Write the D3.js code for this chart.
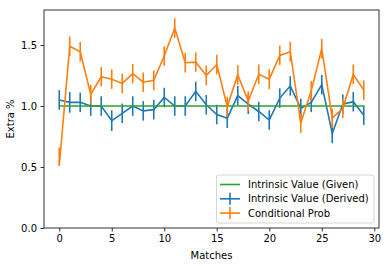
<!DOCTYPE html>
<html><head><meta charset="utf-8">
<script src="https://cdn.jsdelivr.net/npm/d3@7"></script>
<style>body{margin:0;background:#fff}svg{display:block;font-family:"DejaVu Sans",sans-serif}</style>
</head><body><svg id="c" width="389" height="266"></svg>
<script>
const matches = d3.range(30);
const givenValues = matches.map(() => 1.0);
const derivedValues = [1.05,1.03,1.03,1.0,1.0,0.88,0.94,1.0,0.96,0.97,1.07,1.0,1.0,1.12,1.01,0.93,0.90,1.085,1.015,0.955,0.885,1.065,1.165,0.98,1.03,1.175,0.775,1.015,1.035,0.925];
const derivedErr = [0.08,0.085,0.08,0.08,0.08,0.085,0.08,0.08,0.08,0.08,0.08,0.08,0.08,0.08,0.08,0.08,0.08,0.08,0.08,0.08,0.08,0.08,0.08,0.08,0.08,0.08,0.08,0.08,0.08,0.08];
const condValues = [0.51,1.49,1.445,1.095,1.24,1.22,1.185,1.265,1.195,1.21,1.41,1.64,1.355,1.36,1.25,1.34,0.995,1.255,1.04,1.26,1.22,1.415,1.445,0.86,1.125,1.47,0.90,0.98,1.26,1.13];
const condErrLow = [0.0,0.08,0.08,0.08,0.08,0.08,0.08,0.08,0.08,0.08,0.08,0.08,0.08,0.08,0.08,0.08,0.08,0.08,0.08,0.08,0.08,0.08,0.08,0.08,0.08,0.08,0.08,0.08,0.08,0.08];
const condErrHigh = [0.15,0.08,0.08,0.08,0.08,0.08,0.08,0.08,0.08,0.08,0.08,0.08,0.08,0.08,0.08,0.08,0.08,0.08,0.08,0.08,0.08,0.08,0.08,0.08,0.08,0.08,0.08,0.08,0.08,0.08];
const xTicks = [0,5,10,15,20,25,30];
const yTicks = [0.0,0.5,1.0,1.5];
const legendLabels = ["Intrinsic Value (Given)","Intrinsic Value (Derived)","Conditional Prob"];
const colors = {given:"#2ca02c", derived:"#1f77b4", cond:"#ff7f0e"};

const svg = d3.select("#c");
const L=44, R=379, T=10, B=228;
const x = d3.scaleLinear().domain([-1.45,30.45]).range([L,R]);
const y = d3.scaleLinear().domain([0,1.787]).range([B,T]);

const line = d3.line().x((d,i)=>x(matches[i])).y(d=>y(d));
const g = svg.append("g");

function series(vals, lo, hi, col){
  if(lo){
    g.append("g").selectAll("line").data(vals).join("line")
      .attr("x1",(d,i)=>x(matches[i])).attr("x2",(d,i)=>x(matches[i]))
      .attr("y1",(d,i)=>y(d-lo[i])).attr("y2",(d,i)=>y(d+hi[i]))
      .attr("stroke",col).attr("stroke-width",1.6);
  }
  g.append("path").datum(vals).attr("d",line).attr("fill","none")
    .attr("stroke",col).attr("stroke-width",1.6);
}
series(derivedValues,derivedErr,derivedErr,colors.derived);
series(givenValues,null,null,colors.given);
series(condValues,condErrLow,condErrHigh,colors.cond);

// axes
const xa = svg.append("g").attr("transform",`translate(0,${B})`)
  .call(d3.axisBottom(x).tickValues(xTicks).tickSize(3.5).tickPadding(3.5).tickFormat(d3.format("d")));
const ya = svg.append("g").attr("transform",`translate(${L},0)`)
  .call(d3.axisLeft(y).tickValues(yTicks).tickSize(3.5).tickPadding(3.5).tickFormat(d3.format(".1f")));
[xa,ya].forEach(a=>{a.select(".domain").remove();a.selectAll("text").attr("font-size",10).attr("fill","#000").attr("font-family","DejaVu Sans");a.selectAll("line").attr("stroke","#000").attr("stroke-width",0.8);});
svg.append("rect").attr("x",L).attr("y",T).attr("width",R-L).attr("height",B-T)
  .attr("fill","none").attr("stroke","#000").attr("stroke-width",0.8);

svg.append("text").attr("x",(L+R)/2).attr("y",259).attr("text-anchor","middle").attr("font-size",10).text("Matches");
svg.append("text").attr("transform",`translate(14,${(T+B)/2}) rotate(-90)`).attr("text-anchor","middle").attr("font-size",10).text("Extra %");

// legend
const lg = svg.append("g");
lg.append("rect").attr("x",216.5).attr("y",175).attr("width",157.5).attr("height",48).attr("rx",2)
  .attr("fill","#fff").attr("fill-opacity",0.8).attr("stroke","#ccc").attr("stroke-width",0.8);
const lc = [colors.given,colors.derived,colors.cond];
legendLabels.forEach((t,i)=>{
  const yy = 184.5 + i*14.3;
  lg.append("line").attr("x1",220).attr("x2",240).attr("y1",yy).attr("y2",yy).attr("stroke",lc[i]).attr("stroke-width",1.6);
  if(i>0) lg.append("line").attr("x1",230).attr("x2",230).attr("y1",yy-6).attr("y2",yy+6).attr("stroke",lc[i]).attr("stroke-width",1.6);
  lg.append("text").attr("x",248).attr("y",yy+3.6).attr("font-size",10).text(t);
});
</script></body></html>
